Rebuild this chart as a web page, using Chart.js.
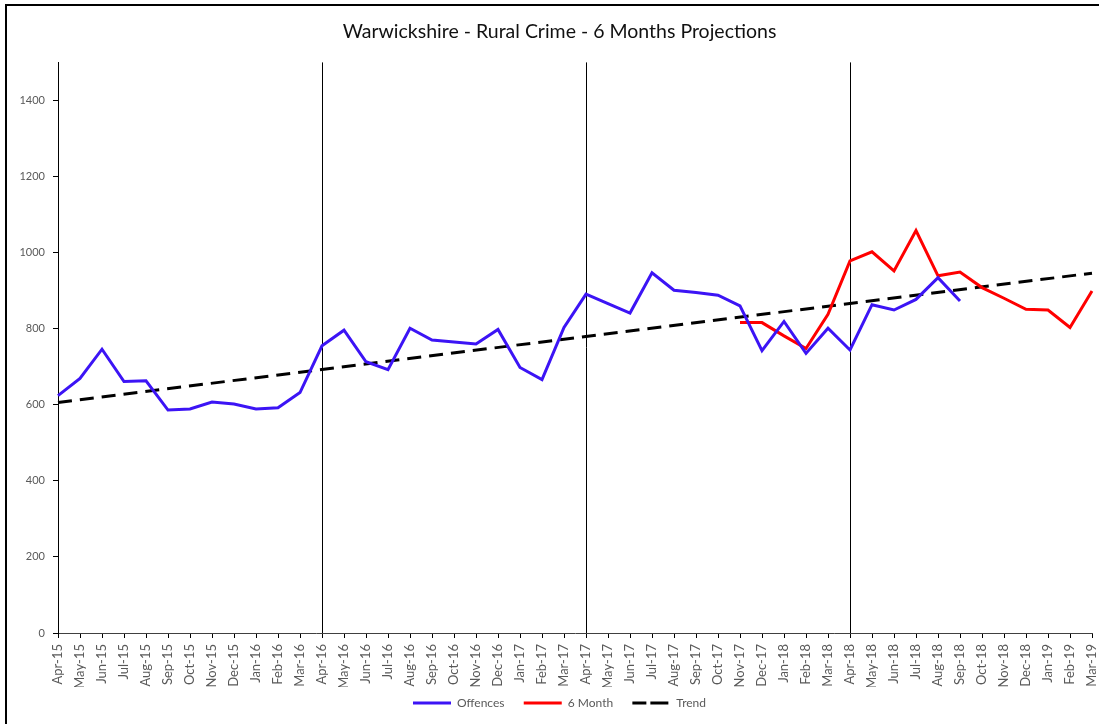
<!DOCTYPE html>
<html>
<head>
<meta charset="utf-8">
<script src="https://cdn.jsdelivr.net/npm/chart.js@4"></script>
<style>
  html, body { margin: 0; padding: 0; background: #fff; overflow: hidden; }
  #wrap { position: relative; width: 1123px; height: 724px; }
</style>
</head>
<body>
<div id="wrap"><canvas id="ruralChart"></canvas></div>
<script>
// --- Data ---
const months = [
  'Apr-15','May-15','Jun-15','Jul-15','Aug-15','Sep-15','Oct-15','Nov-15','Dec-15','Jan-16','Feb-16','Mar-16',
  'Apr-16','May-16','Jun-16','Jul-16','Aug-16','Sep-16','Oct-16','Nov-16','Dec-16','Jan-17','Feb-17','Mar-17',
  'Apr-17','May-17','Jun-17','Jul-17','Aug-17','Sep-17','Oct-17','Nov-17','Dec-17','Jan-18','Feb-18','Mar-18',
  'Apr-18','May-18','Jun-18','Jul-18','Aug-18','Sep-18','Oct-18','Nov-18','Dec-18','Jan-19','Feb-19','Mar-19'
];

const offences = [
  624, 669, 746, 661, 663, 586, 589, 607, 602, 589, 592, 632,
  755, 796, 713, 692, 801, 770, 765, 760, 798, 698, 666, 803,
  891, 866, 841, 947, 901, 895, 888, 860, 742, 819, 735, 801,
  744, 863, 849, 877, 934, 873, null, null, null, null, null, null
];

const sixMonth = [
  null, null, null, null, null, null, null, null, null, null, null, null,
  null, null, null, null, null, null, null, null, null, null, null, null,
  null, null, null, null, null, null, null, 816, 816, 781, 748, 838,
  978, 1002, 952, 1058, 939, 949, 908, 880, 851, 849, 803, 899
];

// trend line: only the two end points, joined across the gaps
const trend = months.map(() => null);
trend[0] = 606;
trend[months.length - 1] = 946;

// years start here -> vertical separators
const yearStarts = ['Apr-16', 'Apr-17', 'Apr-18'];

const yTicks = [0, 200, 400, 600, 800, 1000, 1200, 1400];

const FONT = 'Lato, "Open Sans", sans-serif';
const GREY = '#595959';

// outer frame (top + left edges only)
const framePlugin = {
  id: 'frame',
  afterDraw(chart) {
    const ctx = chart.ctx;
    ctx.save();
    ctx.strokeStyle = '#000';
    ctx.lineWidth = 2;
    ctx.beginPath();
    ctx.moveTo(6, chart.height);
    ctx.lineTo(6, 5);
    ctx.lineTo(chart.width, 5);
    ctx.stroke();
    ctx.restore();
  }
};

// default legend items, with a little extra room after each text
const legendLabels = (chart) => {
  const items = Chart.defaults.plugins.legend.labels.generateLabels(chart);
  items.forEach((it, i) => {
    if (i < items.length - 1) it.text += '   ';
  });
  return items;
};

new Chart(document.getElementById('ruralChart'), {
  type: 'line',
  data: {
    labels: months,
    datasets: [
      {
        label: 'Offences',
        data: offences,
        borderColor: '#3c14f5',
        backgroundColor: '#3c14f5',
        borderWidth: 3,
        pointRadius: 0,
        tension: 0
      },
      {
        label: '6 Month',
        data: sixMonth,
        borderColor: '#ff0000',
        backgroundColor: '#ff0000',
        borderWidth: 3,
        pointRadius: 0,
        tension: 0
      },
      {
        label: 'Trend',
        data: trend,
        borderColor: '#000',
        backgroundColor: '#000',
        borderWidth: 3,
        borderDash: [14, 8],
        pointRadius: 0,
        spanGaps: true,
        tension: 0
      }
    ]
  },
  options: {
    responsive: true,
    maintainAspectRatio: false,
    animation: false,
    layout: { padding: { left: 0, right: 4, top: 0, bottom: 5 } },
    plugins: {
      title: {
        display: true,
        text: 'Warwickshire - Rural Crime - 6 Months Projections',
        color: '#111',
        font: { family: FONT, size: 19.5, weight: 'normal' },
        padding: { top: 20, bottom: 19 }
      },
      legend: {
        position: 'bottom',
        labels: {
          color: GREY,
          font: { family: FONT, size: 12 },
          boxWidth: 38,
          boxHeight: 0,
          padding: 10,
          generateLabels: legendLabels
        }
      },
      tooltip: { enabled: false }
    },
    scales: {
      x: {
        ticks: {
          color: GREY,
          font: { family: FONT, size: 13 },
          autoSkip: false,
          maxRotation: 90,
          minRotation: 90,
          padding: 6
        },
        grid: {
          drawOnChartArea: true,
          color: (c) => (c.tick && yearStarts.includes(months[c.index]) ? '#000' : 'rgba(0,0,0,0)'),
          tickColor: '#000',
          tickLength: 5,
          lineWidth: 1
        },
        border: { display: true, color: '#404040', width: 1 },
        // room on the right keeps the plot edge at 1092 while the canvas runs past the window
        afterFit: (s) => { s.height = 54; s.paddingRight = 31; s.paddingLeft = 0; }
      },
      y: {
        min: 0,
        max: 1500,
        ticks: {
          color: GREY,
          font: { family: FONT, size: 11 },
          padding: 8,
          callback: (v) => String(v)
        },
        afterBuildTicks: (s) => { s.ticks = yTicks.map(v => ({ value: v })); },
        grid: {
          drawOnChartArea: false,
          tickColor: '#000',
          tickLength: 5
        },
        border: { display: true, color: '#000', width: 1 },
        afterFit: (s) => { s.width = 58; }
      }
    }
  },
  plugins: [framePlugin]
});
</script>
</body>
</html>
